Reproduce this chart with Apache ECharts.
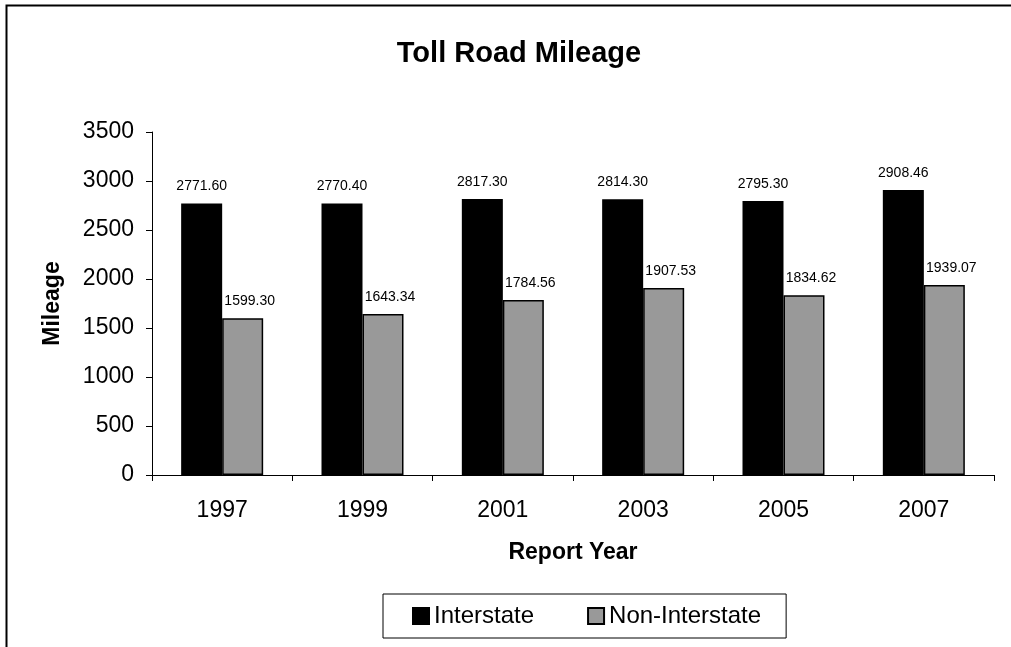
<!DOCTYPE html>
<html>
<head>
<meta charset="utf-8">
<title>Toll Road Mileage</title>
<script src="https://cdn.jsdelivr.net/npm/echarts@6/dist/echarts.min.js"></script>
<style>
    html, body { margin: 0; padding: 0; background: #fff; }
    #main { width: 1011px; height: 647px; }
</style>
</head>
<body>
<div id="main"></div>
<script>
// chart data
var years = ['1997', '1999', '2001', '2003', '2005', '2007'];
var interstate = [2771.60, 2770.40, 2817.30, 2814.30, 2795.30, 2908.46];
var nonInterstate = [1599.30, 1643.34, 1784.56, 1907.53, 1834.62, 1939.07];
var yTicks = [0, 500, 1000, 1500, 2000, 2500, 3000, 3500];

var font = 'Liberation Sans, Arial, Helvetica, sans-serif';

var myChart = echarts.init(document.getElementById('main'));

myChart.setOption({
    animation: false,
    backgroundColor: '#fff',
    textStyle: { fontFamily: font, color: '#000' },
    // outer frame of the chart
    graphic: [{
        type: 'rect',
        shape: { x: 6.5, y: 5.5, width: 1030, height: 700 },
        style: { fill: 'none', stroke: '#000', lineWidth: 2 },
        z: -1
    }],
    title: {
        text: 'Toll Road Mileage',
        left: 514,
        textAlign: 'center',
        top: 34,
        textStyle: { fontFamily: font, fontSize: 29, fontWeight: 'bold', color: '#000' }
    },
    legend: {
        data: ['Interstate', 'Non-Interstate'],
        icon: 'rect',
        left: 383,
        top: 594,
        padding: [10, 25, 10, 29],
        itemWidth: 16,
        itemHeight: 16,
        itemGap: 53,
        borderColor: '#000',
        borderWidth: 1,
        textStyle: { fontFamily: font, fontSize: 24, color: '#000' }
    },
    grid: { left: 152, right: 17, top: 132, bottom: 172 },
    xAxis: {
        type: 'category',
        data: years,
        name: 'Report Year',
        nameLocation: 'middle',
        nameGap: 66,
        nameTextStyle: { fontFamily: font, fontSize: 23, fontWeight: 'bold', color: '#000' },
        axisLine: { lineStyle: { color: '#000', width: 1 } },
        axisTick: { show: true, alignWithLabel: false, length: 6, lineStyle: { color: '#000' } },
        axisLabel: { margin: 24, fontFamily: font, fontSize: 23, color: '#000' }
    },
    yAxis: {
        type: 'value',
        min: yTicks[0],
        max: yTicks[yTicks.length - 1],
        interval: yTicks[1] - yTicks[0],
        name: 'Mileage',
        nameLocation: 'middle',
        nameGap: 88,
        nameTextStyle: { fontFamily: font, fontSize: 23, fontWeight: 'bold', color: '#000' },
        axisLine: { show: true, lineStyle: { color: '#000', width: 1 } },
        axisTick: { show: true, length: 6, lineStyle: { color: '#000' } },
        axisLabel: {
            margin: 18,
            fontFamily: font,
            fontSize: 23,
            color: '#000',
            formatter: function (v) { return String(v); }
        },
        splitLine: { show: false }
    },
    series: [
        {
            name: 'Interstate',
            type: 'bar',
            data: interstate,
            barWidth: 41,
            barGap: '0%',
            itemStyle: { color: '#000', borderColor: '#000', borderWidth: 1.5 },
            label: {
                show: true,
                position: 'top',
                distance: 10,
                fontFamily: font,
                fontSize: 14,
                color: '#000',
                formatter: function (p) { return p.value.toFixed(2); }
            }
        },
        {
            name: 'Non-Interstate',
            type: 'bar',
            data: nonInterstate,
            barWidth: 41,
            barGap: '0%',
            itemStyle: { color: '#999999', borderColor: '#000', borderWidth: 1.5 },
            label: {
                show: true,
                position: 'top',
                distance: 10,
                offset: [7, 0],
                fontFamily: font,
                fontSize: 14,
                color: '#000',
                formatter: function (p) { return p.value.toFixed(2); }
            }
        }
    ]
});
</script>
</body>
</html>
